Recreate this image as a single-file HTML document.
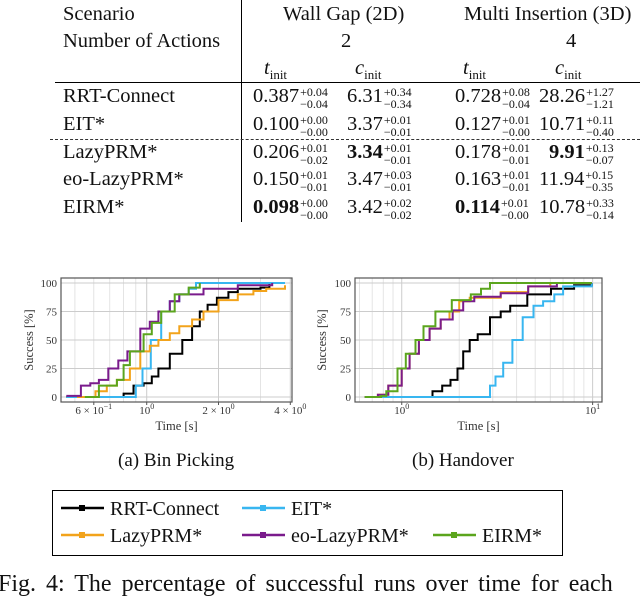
<!DOCTYPE html>
<html><head><meta charset="utf-8"><style>
body{margin:0;width:640px;height:592px;overflow:hidden;background:#fff;font-family:"Liberation Serif",serif;color:#111;position:relative}
.t{position:absolute;font-size:20.5px;white-space:nowrap;line-height:20px}
.n{position:absolute;font-size:20.5px;white-space:nowrap;line-height:20px}
.pm{display:inline-block;vertical-align:-6px;font-size:12px;line-height:12px;margin-left:1px}
.pm span{display:block}
sub{font-size:13px}
</style></head><body>
<div>
<div class="t" style="left:63px;top:4px">Scenario</div>
<div class="t" style="left:63px;top:31px">Number of Actions</div>
<div class="t" style="left:283px;top:4px">Wall Gap (2D)</div>
<div class="t" style="left:464px;top:4px">Multi Insertion (3D)</div>
<div class="t" style="left:341px;top:31px">2</div>
<div class="t" style="left:566px;top:31px">4</div>
<div class="t" style="left:264px;top:58px"><i>t</i><sub>init</sub></div>
<div class="t" style="left:355px;top:58px"><i>c</i><sub>init</sub></div>
<div class="t" style="left:463px;top:58px"><i>t</i><sub>init</sub></div>
<div class="t" style="left:555px;top:58px"><i>c</i><sub>init</sub></div>
<div style="position:absolute;left:241px;top:0;width:1px;height:222px;background:#000"></div>
<div style="position:absolute;left:55px;top:82px;width:585px;height:1px;background:#000"></div>
<div style="position:absolute;left:50px;top:139px;width:590px;height:0;border-top:1.5px dashed #333"></div>
<div id="rows"></div>
</div>
<svg id="c" width="640" height="592" style="position:absolute;left:0;top:0"></svg>
<div style="position:absolute;left:52px;top:490px;width:511px;height:66px;border:1px solid #000;box-sizing:border-box"></div>
<div class="t" style="left:-2px;top:574px;font-size:24px;word-spacing:4px">Fig. 4: The percentage of successful runs over time for each</div>
<div class="t" style="left:118px;top:451px;font-size:19px">(a) Bin Picking</div>
<div class="t" style="left:412px;top:451px;font-size:19px">(b) Handover</div>
<script>
const planners=["RRT-Connect","EIT*","LazyPRM*","eo-LazyPRM*","EIRM*"];
const tableVals=[
 [["0.387","+0.04","−0.04",0],["6.31","+0.34","−0.34",0],["0.728","+0.08","−0.04",0],["28.26","+1.27","−1.21",0]],
 [["0.100","+0.00","−0.00",0],["3.37","+0.01","−0.01",0],["0.127","+0.01","−0.00",0],["10.71","+0.11","−0.40",0]],
 [["0.206","+0.01","−0.02",0],["3.34","+0.01","−0.01",1],["0.178","+0.01","−0.01",0],["9.91","+0.13","−0.07",1]],
 [["0.150","+0.01","−0.01",0],["3.47","+0.03","−0.01",0],["0.163","+0.01","−0.01",0],["11.94","+0.15","−0.35",0]],
 [["0.098","+0.00","−0.00",1],["3.42","+0.02","−0.02",0],["0.114","+0.01","−0.00",1],["10.78","+0.33","−0.14",0]]];
const colX=[253,347,455,539];
const rowY=[86,114,142,169,197];
const rows=document.getElementById('rows');
planners.forEach((p,i)=>{
 const d=document.createElement('div');d.className='t';d.style.left='63px';d.style.top=rowY[i]+'px';d.textContent=p;
 
 
 rows.appendChild(d);
 tableVals[i].forEach((v,j)=>{
  const c=document.createElement('div');c.className='n';
  let x=colX[j]; if(v[0].length===4 && j===3) x+=10;
  c.style.left=x+'px';c.style.top=rowY[i]+'px';
  c.innerHTML=(v[3]?'<b>'+v[0]+'</b>':v[0])+'<span class="pm"><span>'+v[1]+'</span><span>'+v[2]+'</span></span>';
  
  
  rows.appendChild(c);
 });
});

const seriesNames=["RRT-Connect","EIT*","LazyPRM*","eo-LazyPRM*","EIRM*"];
const colors=["#000000","#38b6f0","#f2a31b","#7a1b8c","#5ba51d"];
const binT_rrt=[0.46,0.69,0.80,0.88,0.97,1.05,1.12,1.25,1.41,1.55,1.67,1.8,1.97,2.2,2.41,3.0,3.27,3.8];
const binY_rrt=[0,0,3,10,12,18,25,38,50,62,75,81,87,92,95,96,100,100];
const binT_eit=[0.46,0.85,0.9,0.96,1.04,1.15,1.25,1.37,1.5,1.61,3.8];
const binY_eit=[0,0,10,25,50,75,84,90,95,100,100];
const binT_lazy=[0.51,0.61,0.68,0.75,0.85,0.94,1.03,1.12,1.25,1.37,1.55,1.73,2.0,2.41,2.8,3.17,3.8];
const binY_lazy=[0,5,10,15,25,40,45,50,56,62,68,75,85,90,93,95,98];
const binT_eo=[0.46,0.53,0.58,0.63,0.69,0.76,0.83,0.94,1.03,1.12,1.25,1.37,1.73,2.41,3.36];
const binY_eo=[1,10,12,15,25,32,40,60,66,75,84,90,95,98,100];
const binT_eirm=[0.55,0.63,0.75,0.8,0.85,0.97,1.05,1.15,1.31,1.5,1.67];
const binY_eirm=[0,10,15,28,40,55,65,75,90,96,100];
const hoT_rrt=[0.64,1.28,1.45,1.63,1.8,1.96,2.1,2.27,2.5,2.9,3.3,3.7,4.55,6.05,8.0,9.9];
const hoY_rrt=[0,0,5,10,15,25,40,50,55,70,75,80,90,95,98,100];
const hoT_eit=[0.64,2.73,2.9,3.1,3.4,3.8,4.3,4.9,5.5,6.3,7.0,9.9];
const hoY_eit=[0,0,10,18,30,50,70,80,84,90,97,100];
const hoT_lazy=[0.64,0.75,0.85,1.0,1.1,1.23,1.4,1.6,1.78,2.0,2.27,3.3,4.6,6.0,9.9];
const hoY_lazy=[0,2,10,25,38,50,60,68,75,84,87,92,97,100,100];
const hoT_eo=[0.64,0.75,0.85,1.0,1.1,1.23,1.4,1.6,1.85,2.1,2.4,3.3,4.6,6.5,9.9];
const hoY_eo=[0,2,10,25,38,50,60,68,76,84,88,91,97,100,100];
const hoT_eirm=[0.64,0.78,0.83,0.95,1.05,1.18,1.3,1.5,1.83,2.3,2.6,2.9,9.9];
const hoY_eirm=[0,1,5,25,38,50,62,75,85,90,95,100,100];
const yTicks=[0,25,50,75,100];

const NS="http://www.w3.org/2000/svg";
const svg=document.getElementById('c');
function el(t,a,par){const e=document.createElementNS(NS,t);for(const k in a)e.setAttribute(k,a[k]);(par||svg).appendChild(e);return e;}
function chart(cfg){
 const g=el('g',{});
 
 
 const {x0,x1,y0,y1,tmin,tmax}=cfg;
 const px0=x0+3, px1=x1-3;
 const X=t=>px0+(Math.log(t)-Math.log(tmin))/(Math.log(tmax)-Math.log(tmin))*(px1-px0);
 const Y=v=>397-v/100*(397-283);
 cfg.minor.forEach(t=>{el('line',{x1:X(t),x2:X(t),y1:y0,y2:y1,stroke:'#ddd','stroke-width':0.8},g);});
 cfg.major.forEach(t=>{el('line',{x1:X(t),x2:X(t),y1:y0,y2:y1,stroke:'#ccc','stroke-width':1},g);});
 yTicks.forEach(v=>{
  el('line',{x1:x0,x2:x1,y1:Y(v),y2:Y(v),stroke:'#ccc','stroke-width':1},g);
  const tx=el('text',{x:x0-4,y:Y(v)+4,'text-anchor':'end','font-size':11,fill:'#333','font-family':'Liberation Serif, serif'},g);
  tx.textContent=v;
  
  
 });
 cfg.series.forEach((s,i)=>{
  const T=s[0],V=s[1];
  let d='M'+X(T[0]).toFixed(1)+' '+Y(V[0]).toFixed(1);
  for(let k=1;k<T.length;k++){d+=' H'+X(T[k]).toFixed(1)+' V'+Y(V[k]).toFixed(1);}
  const p=el('path',{d:d,fill:'none',stroke:colors[i],'stroke-width':2},g);
  
  
 });
 el('rect',{x:x0,y:y0,width:x1-x0,height:y1-y0,fill:'none',stroke:'#555','stroke-width':1.2},g);
 cfg.labels.forEach(L=>{
  el('line',{x1:X(L[0]),x2:X(L[0]),y1:y1,y2:y1+3,stroke:'#555'},g);
  const tx=el('text',{x:X(L[0]),y:414,'text-anchor':'middle','font-size':11,fill:'#333','font-family':'Liberation Serif, serif'},g);
  tx.innerHTML=L[1]+'10<tspan dy="-5" font-size="8">'+L[2]+'</tspan>';
  
  
 });
 const xt=el('text',{x:(x0+x1)/2,y:430,'text-anchor':'middle','font-size':12.5,fill:'#333','font-family':'Liberation Serif, serif'},g);
 xt.textContent='Time [s]';
 
 
 const yt=el('text',{x:cfg.ylx,y:340,'text-anchor':'middle','font-size':12.5,fill:'#333','font-family':'Liberation Serif, serif',transform:'rotate(-90 '+cfg.ylx+' 340)'},g);
 yt.textContent='Success [%]';
 
 
}
chart({name:'bin-picking-chart',x0:61,x1:292,y0:278,y1:402,tmin:0.45,tmax:3.95,ylx:33,
 minor:[0.5,0.6,0.7,0.8,0.9,3],major:[1,2,4],
 labels:[[0.6,'6 × ','−1'],[1,'','0'],[2,'2 × ','0'],[4,'4 × ','0']],
 series:[[binT_rrt,binY_rrt],[binT_eit,binY_eit],[binT_lazy,binY_lazy],[binT_eo,binY_eo],[binT_eirm,binY_eirm]]});
chart({name:'handover-chart',x0:355,x1:602,y0:278,y1:402,tmin:0.59,tmax:10.8,ylx:326,
 minor:[0.6,0.7,0.8,0.9,2,3,4,5,6,7,8,9],major:[1,10],
 labels:[[1,'','0'],[10,'','1']],
 series:[[hoT_rrt,hoY_rrt],[hoT_eit,hoY_eit],[hoT_lazy,hoY_lazy],[hoT_eo,hoY_eo],[hoT_eirm,hoY_eirm]]});
const legPos=[[61,508],[242,508],[61,535],[242,535],[433,535]];
seriesNames.forEach((n,i)=>{
 const [x,y]=legPos[i];
 const g=el('g',{});
 
 
 el('line',{x1:x,x2:x+43,y1:y,y2:y,stroke:colors[i],'stroke-width':2.5},g);
 el('rect',{x:x+18,y:y-3,width:6,height:6,fill:colors[i]},g);
 const t=el('text',{x:x+49,y:y+7,'font-size':20,fill:'#111','font-family':'Liberation Serif, serif'},g);
 t.textContent=n;
});
</script>
</body></html>
